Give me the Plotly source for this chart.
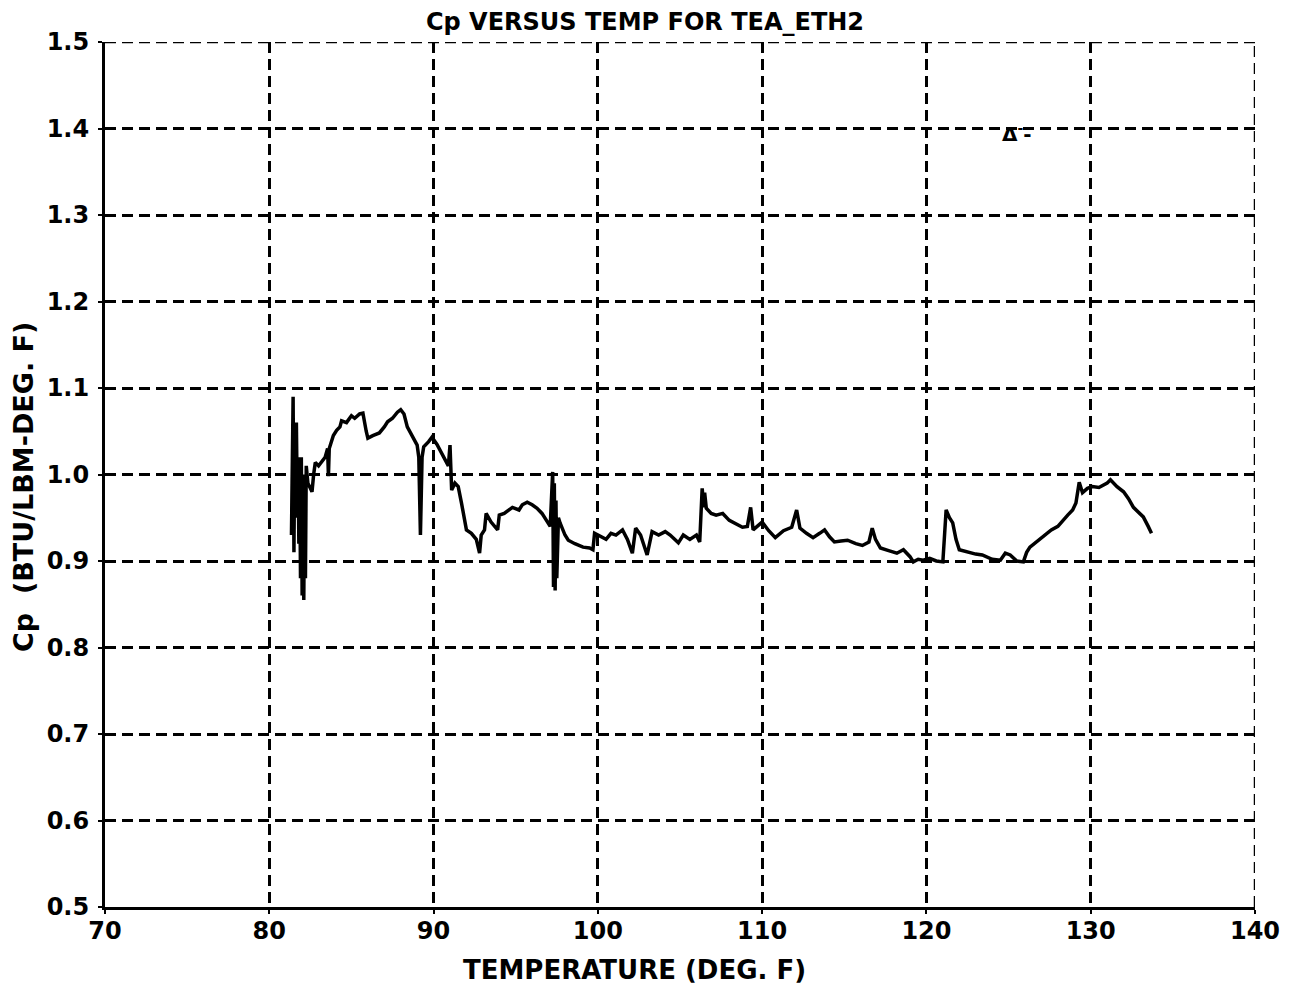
import plotly.graph_objects as go

temp = [81.35, 81.40, 81.45, 81.50, 81.55, 81.6, 81.65, 81.7, 81.75, 81.8, 81.85, 81.9, 81.95, 82.0, 82.05,
        82.1, 82.15, 82.2, 82.25, 82.35, 82.5, 82.6, 82.7, 82.8, 83.0, 83.2, 83.4, 83.55, 83.6, 83.65,
        83.9, 84.1, 84.3, 84.4, 84.7, 85.0, 85.2, 85.5, 85.7, 85.9, 86.0, 86.3, 86.7, 87.0, 87.2,
        87.5, 87.8, 88.0, 88.2, 88.4, 88.7, 89.0, 89.1, 89.2, 89.3, 89.4, 89.7, 89.9, 90.2, 90.6,
        90.9, 91.0, 91.05, 91.1, 91.3, 91.5, 91.7, 92.0, 92.3, 92.6, 92.8, 92.9, 93.1, 93.2, 93.5,
        93.9, 94.0, 94.3, 94.8, 95.2, 95.4, 95.7, 96.0, 96.3, 96.6, 96.9, 97.1, 97.25, 97.3, 97.35,
        97.4, 97.45, 97.5, 97.6, 97.7, 98.0, 98.2, 98.6, 99.1, 99.5, 99.7, 99.8, 100.2, 100.5, 100.8,
        101.1, 101.5, 101.8, 102.1, 102.3, 102.6, 103.0, 103.3, 103.7, 104.1, 104.4, 104.9, 105.2, 105.6, 106.0,
        106.2, 106.35, 106.45, 106.5, 106.6, 106.9, 107.2, 107.6, 108.0, 108.4, 108.8, 109.1, 109.3, 109.45, 109.7,
        110.0, 110.4, 110.8, 111.3, 111.8, 112.1, 112.3, 112.7, 113.1, 113.5, 113.8, 114.1, 114.4, 114.8, 115.2,
        115.7, 116.1, 116.5, 116.7, 116.9, 117.2, 117.7, 118.2, 118.6, 119.0, 119.2, 119.5, 119.8, 120.2, 120.6,
        121.0, 121.2, 121.4, 121.6, 121.8, 122.0, 122.5, 123.0, 123.4, 124.0, 124.5, 124.8, 125.1, 125.5, 125.9,
        126.1, 126.3, 126.7, 127.1, 127.6, 128.0, 128.3, 128.6, 128.9, 129.1, 129.3, 129.5, 129.8, 130.1, 130.5,
        131.0, 131.2, 131.6, 132.0, 132.3, 132.6, 132.9, 133.2, 133.5, 133.7]

cp = [0.93, 1.00, 1.09, 0.91, 1.03, 0.95, 1.06, 0.97, 1.02, 0.92, 1.01, 0.88, 1.02, 0.86, 0.99,
      0.855, 1.00, 0.88, 1.01, 0.99, 0.985, 0.98, 1.00, 1.014, 1.01, 1.015, 1.02, 1.03, 0.998, 1.03,
      1.045, 1.051, 1.055, 1.062, 1.06, 1.068, 1.065, 1.07, 1.071, 1.05, 1.042, 1.045, 1.048, 1.055, 1.061,
      1.065, 1.072, 1.075, 1.07, 1.055, 1.045, 1.034, 1.02, 0.93, 1.02, 1.032, 1.038, 1.043, 1.035, 1.02,
      1.01, 1.034, 0.99, 0.982, 0.99, 0.986, 0.967, 0.936, 0.932, 0.925, 0.909, 0.93, 0.936, 0.955, 0.945,
      0.936, 0.953, 0.955, 0.962, 0.959, 0.965, 0.968, 0.965, 0.961, 0.955, 0.947, 0.94, 1.003, 0.87, 0.99,
      0.866, 0.97, 0.88, 0.95, 0.944, 0.93, 0.924, 0.92, 0.916, 0.915, 0.913, 0.932, 0.928, 0.925, 0.932,
      0.93, 0.936, 0.925, 0.909, 0.938, 0.93, 0.907, 0.934, 0.93, 0.934, 0.93, 0.921, 0.93, 0.925, 0.93,
      0.922, 0.984, 0.962, 0.979, 0.961, 0.955, 0.953, 0.955, 0.947, 0.943, 0.939, 0.94, 0.962, 0.936, 0.94,
      0.945, 0.935, 0.927, 0.935, 0.939, 0.959, 0.938, 0.932, 0.927, 0.932, 0.936, 0.928, 0.922, 0.923, 0.924,
      0.92, 0.918, 0.922, 0.938, 0.925, 0.915, 0.912, 0.909, 0.913, 0.905, 0.899, 0.902, 0.901, 0.903, 0.9,
      0.899, 0.959, 0.95, 0.944, 0.925, 0.913, 0.91, 0.908, 0.907, 0.902, 0.901, 0.909, 0.907, 0.9, 0.899,
      0.91, 0.916, 0.922, 0.928, 0.936, 0.94, 0.947, 0.953, 0.959, 0.967, 0.991, 0.979, 0.984, 0.986, 0.985,
      0.99, 0.994, 0.986, 0.98, 0.972, 0.962, 0.957, 0.951, 0.94, 0.932]

x_ticks = [70, 80, 90, 100, 110, 120, 130, 140]
x_labels = ["70", "80", "90", "100", "110", "120", "130", "140"]
y_ticks = [0.5, 0.6, 0.7, 0.8, 0.9, 1.0, 1.1, 1.2, 1.3, 1.4, 1.5]
y_labels = ["0.5", "0.6", "0.7", "0.8", "0.9", "1.0", "1.1", "1.2", "1.3", "1.4", "1.5"]

legend_x = [125.1]
legend_y = [1.395]

FONT = "DejaVu Sans"
GRID_DASH = "11px,6px"

# page body has an 8px margin, so the figure is laid out in coordinates shifted by 8px
W, H = 1286, 980
L, R_EDGE, T, B_EDGE = 97, 1247, 34, 899
PW, PH = R_EDGE - L, B_EDGE - T

fig = go.Figure()
fig.add_trace(go.Scatter(x=temp, y=cp, mode="lines",
                         line=dict(color="black", width=3.5), showlegend=False))

fig.add_annotation(x=legend_x[0], y=legend_y[0], text="Δ<sup>-</sup>-", showarrow=False,
                   xanchor="left", xshift=-10,
                   font=dict(family=FONT, size=20, color="black", weight=700))

# top and right borders drawn as dashed lines (they are gridlines in the original)
fig.add_shape(type="line", xref="x", yref="y", x0=70, x1=140, y0=1.5, y1=1.5,
              line=dict(color="black", width=2.5, dash=GRID_DASH))
fig.add_shape(type="line", xref="x", yref="y", x0=140, x1=140, y0=0.5, y1=1.5,
              line=dict(color="black", width=2.5, dash=GRID_DASH))

# axis titles placed as paper annotations
fig.add_annotation(text="TEMPERATURE (DEG. F)", xref="paper", yref="paper",
                   x=(626 - L) / PW, y=-(962 - B_EDGE) / PH, xanchor="center", yanchor="middle",
                   showarrow=False, font=dict(family=FONT, size=26, color="black", weight=700))
fig.add_annotation(text="Cp  (BTU/LBM-DEG. F)", xref="paper", yref="paper", textangle=-90,
                   x=-(L - 15) / PW, y=(B_EDGE - 479) / PH, xanchor="center", yanchor="middle",
                   showarrow=False, font=dict(family=FONT, size=27, color="black", weight=700))

fig.update_layout(
    width=W, height=H,
    margin=dict(l=L, r=W - R_EDGE, t=T, b=H - B_EDGE, autoexpand=False),
    paper_bgcolor="white", plot_bgcolor="white",
    title=dict(text="Cp VERSUS TEMP FOR TEA_ETH2", x=637 / W, xanchor="center",
               y=1 - 14 / H, yanchor="middle", xref="container", yref="container",
               font=dict(family=FONT, size=24, color="black", weight=700)),
    font=dict(family=FONT, color="black"),
)
fig.update_xaxes(range=[70, 140], tickvals=x_ticks, ticktext=x_labels, automargin=False,
                 showgrid=True, gridcolor="black", gridwidth=2.5, griddash=GRID_DASH,
                 showline=True, linecolor="black", linewidth=3,
                 ticks="outside", ticklen=4, tickcolor="black", tickwidth=2, zeroline=False,
                 ticklabelstandoff=-4,
                 tickfont=dict(family=FONT, size=24, weight=700))
fig.update_yaxes(range=[0.5, 1.5], tickvals=y_ticks, ticktext=y_labels, automargin=False,
                 showgrid=True, gridcolor="black", gridwidth=2.5, griddash=GRID_DASH,
                 showline=True, linecolor="black", linewidth=3,
                 ticks="outside", ticklen=4, tickcolor="black", tickwidth=2, zeroline=False,
                 ticklabelstandoff=4,
                 tickfont=dict(family=FONT, size=24, weight=700))

fig.write_html("out.html")
